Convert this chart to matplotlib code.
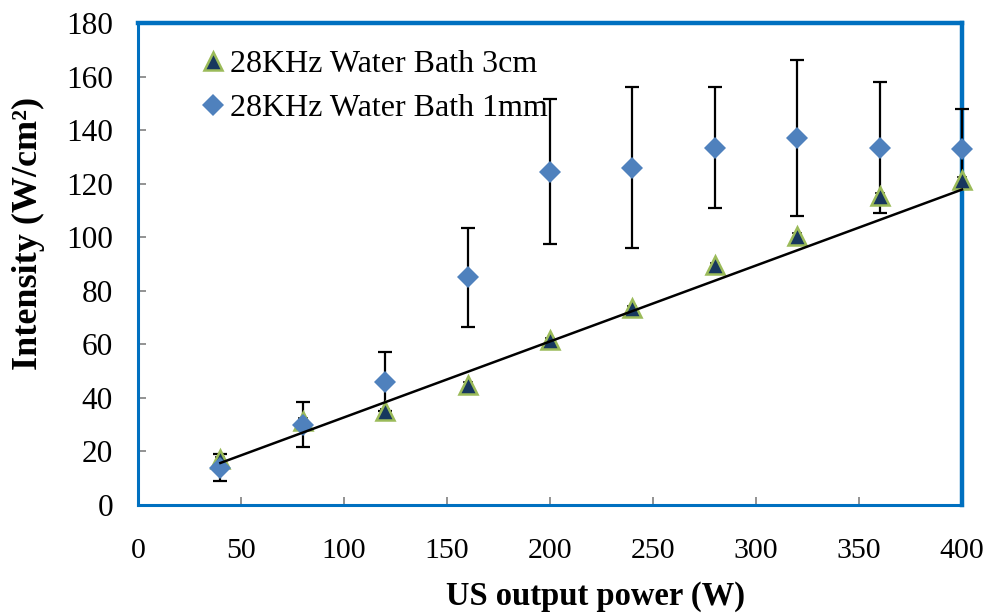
import matplotlib.pyplot as plt
import numpy as np

# US output power (W)
power = [40, 80, 120, 160, 200, 240, 280, 320, 360, 400]

# 28KHz water bath, 3cm
int_3cm = [17, 31.5, 35, 45, 61.5, 73.5, 89.5, 100.5, 115.5, 121.5]
err_3cm = [1, 1, 1, 1, 1, 1, 1, 1, 1, 1]

# 28KHz water bath, 1mm
int_1mm = [14, 30, 46, 85, 124.5, 126, 133.5, 137, 133.5, 133]
err_1mm = [5, 8.5, 11, 18.5, 27, 30, 22.5, 29, 24.5, 15]

# linear trend line (3cm) as drawn
trend_x = [40, 400]
trend_y = [15.7, 117.8]

plt.rcParams['font.family'] = ['Liberation Serif', 'DejaVu Serif']

fig = plt.figure(figsize=(9.92, 6.14), dpi=100)
ax = fig.add_axes([138/992, 1-505/614, (962-138)/992, (505-23)/614])

blue_frame = '#0070C0'

ax.errorbar(power, int_3cm, yerr=err_3cm, fmt='none', ecolor='black',
            elinewidth=1.1, capsize=3.5, capthick=1.1, zorder=3, clip_on=False)
ax.errorbar(power, int_1mm, yerr=err_1mm, fmt='none', ecolor='black',
            elinewidth=1.6, capsize=5, capthick=1.6, zorder=3, clip_on=False)

ax.plot(power, int_3cm, linestyle='none', marker='^', markersize=13,
        markerfacecolor='#17375E', markeredgecolor='#9BBB59', markeredgewidth=1.8,
        label='28KHz Water Bath 3cm', zorder=4, clip_on=False)
ax.plot(power, int_1mm, linestyle='none', marker='D', markersize=11,
        markerfacecolor='#4F81BD', markeredgecolor='#4F81BD', markeredgewidth=0,
        label='28KHz Water Bath 1mm', zorder=5, clip_on=False)

ax.plot(trend_x, trend_y, color='black', linewidth=1.8, zorder=6, clip_on=False)

ax.set_xlim(0, 400)
ax.set_ylim(0, 180)
ax.set_xticks(np.arange(0, 401, 50))
ax.set_yticks(np.arange(0, 181, 20))
ax.tick_params(axis='both', direction='in', length=6, width=1.2, color='#808080')
ax.tick_params(axis='y', pad=18, labelsize=22.5)
ax.tick_params(axis='x', pad=24, labelsize=21.5)

for side in ['top', 'right']:
    ax.spines[side].set_color(blue_frame)
    ax.spines[side].set_linewidth(3.2)
for side in ['left', 'bottom']:
    ax.spines[side].set_color(blue_frame)
    ax.spines[side].set_linewidth(2.2)

ax.set_xlabel('US output power (W)', fontsize=23.5, fontweight='bold')
ax.set_ylabel('Intensity (W/cm²)', fontsize=26, fontweight='bold')
ax.xaxis.set_label_coords((595-138)/824, -(596-505)/482)
ax.yaxis.set_label_coords(-(138-28)/824, (505-233)/482)
ax.xaxis.label.set_verticalalignment('center')
ax.yaxis.label.set_verticalalignment('center')

ax.legend(loc='upper left', bbox_to_anchor=(187/992, 1-37/614), bbox_transform=fig.transFigure,
          frameon=False, fontsize=23, handlelength=0.8, handletextpad=0.15,
          labelspacing=0.45, borderaxespad=0, numpoints=1)

fig.savefig('out.png', dpi=100)
